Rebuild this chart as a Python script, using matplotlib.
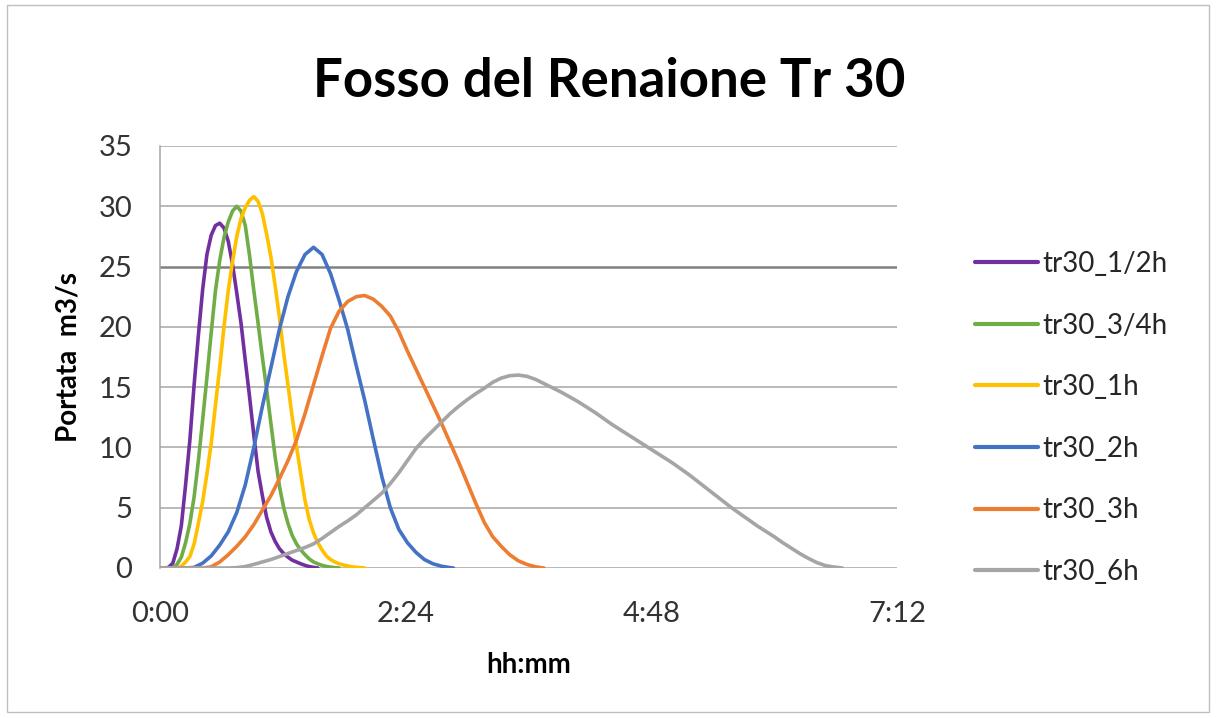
import matplotlib
matplotlib.use("Agg")
import matplotlib.pyplot as plt
from matplotlib.ticker import FuncFormatter
from matplotlib.patches import Rectangle

# ---- data (time in minutes, discharge in m3/s) ----
t_05 = [0, 2.5, 5, 7.5, 10, 12.5, 15, 17.5, 20, 22.5, 25, 27.5, 30, 32.5, 35, 37.5, 40, 42.5, 45, 47.5,
        50, 52.5, 55, 57.5, 60, 62.5, 65, 67.5, 70, 72.5, 75, 77.5, 80, 82.5, 85, 87.5, 90, 92.5]
q_05 = [0, 0, 0.05, 0.4, 1.6, 3.5, 6.9, 10.6, 15.2, 19.3, 23.1, 26, 27.6, 28.4, 28.6, 28.2, 27.1, 25.2, 22.8, 20.3,
        17.2, 14.2, 11, 8, 6, 4.2, 3, 2.2, 1.6, 1.2, 0.9, 0.65, 0.5, 0.35, 0.22, 0.12, 0.05, 0]

t_075 = [0, 2.5, 5, 7.5, 10, 12.5, 15, 17.5, 20, 22.5, 25, 27.5, 30, 32.5, 35, 37.5, 40, 42.5, 45, 47.5,
         50, 52.5, 55, 57.5, 60, 62.5, 65, 67.5, 70, 72.5, 75, 77.5, 80, 82.5, 85, 87.5, 90, 92.5, 95, 97.5,
         100, 102.5, 105]
q_075 = [0, 0, 0, 0, 0.3, 0.9, 2.1, 3.7, 5.9, 8.9, 12.3, 15.8, 19.5, 23, 25.5, 27.4, 28.7, 29.6, 30, 29.6,
         28.4, 25.9, 23, 20.3, 17.5, 14.8, 12, 9.2, 6.8, 5, 3.7, 2.7, 2, 1.5, 1.1, 0.75, 0.5, 0.35, 0.22, 0.13,
         0.07, 0.03, 0]

t_1 = [0, 2.5, 5, 7.5, 10, 12.5, 15, 17.5, 20, 22.5, 25, 27.5, 30, 32.5, 35, 37.5, 40, 42.5, 45, 47.5,
       50, 52.5, 55, 57.5, 60, 62.5, 65, 67.5, 70, 72.5, 75, 77.5, 80, 82.5, 85, 87.5, 90, 92.5, 95, 97.5,
       100, 102.5, 105, 107.5, 110, 112.5, 115, 117.5, 120]
q_1 = [0, 0, 0, 0, 0, 0.15, 0.5, 0.95, 2, 3.7, 5.5, 7.8, 10.3, 13.5, 16.6, 20, 23, 25.4, 27.5, 29,
       29.9, 30.5, 30.8, 30.4, 29.4, 27.7, 25.8, 23.4, 20.8, 17.8, 15.2, 12.5, 10.1, 7.8, 5.6, 4, 2.9, 2.1, 1.5, 1,
       0.7, 0.5, 0.35, 0.25, 0.17, 0.1, 0.06, 0.03, 0]

t_2 = [0, 5, 10, 15, 20, 25, 30, 35, 40, 45, 50, 55, 60, 65, 70, 75, 80, 85, 90, 95,
       100, 105, 110, 115, 120, 125, 130, 135, 140, 145, 150, 155, 160, 165, 170, 172]
q_2 = [0, 0, 0, 0, 0.05, 0.4, 1.0, 1.9, 3.0, 4.6, 6.9, 10.0, 13.4, 16.6, 19.8, 22.5, 24.6, 26.0, 26.6, 26.0,
       24.4, 22.2, 19.8, 16.8, 13.9, 10.7, 7.6, 5.0, 3.2, 2.1, 1.3, 0.7, 0.35, 0.15, 0.03, 0]

t_3 = [0, 5, 10, 15, 20, 25, 30, 35, 40, 45, 50, 55, 60, 65, 70, 75, 80, 85, 90, 95,
       100, 105, 110, 115, 120, 125, 130, 135, 140, 145, 150, 155, 160, 165, 170, 175, 180, 185, 190, 195,
       200, 205, 210, 215, 220, 225]
q_3 = [0, 0, 0, 0, 0, 0, 0.1, 0.5, 1.1, 1.8, 2.6, 3.6, 4.8, 6.0, 7.4, 8.9, 10.6, 12.8, 15.2, 17.6,
       19.9, 21.3, 22.1, 22.5, 22.6, 22.3, 21.7, 20.9, 19.6, 18.0, 16.5, 15.0, 13.5, 12.0, 10.4, 8.8, 7.1, 5.4, 3.8, 2.6,
       1.8, 1.1, 0.6, 0.3, 0.1, 0]

t_6 = [0, 40, 45, 50, 55, 60, 65, 70, 75, 80, 85, 90, 95, 100, 105, 110, 115, 120, 125, 130,
       135, 140, 145, 150, 155, 160, 165, 170, 175, 180, 185, 190, 195, 200, 205, 210, 215, 220, 225, 230,
       235, 240, 245, 250, 255, 260, 265, 270, 275, 280, 285, 290, 295, 300, 305, 310, 315, 320, 325, 330,
       335, 340, 345, 350, 355, 360, 365, 370, 375, 380, 385, 390, 395, 400]
q_6 = [0, 0, 0.03, 0.12, 0.3, 0.5, 0.7, 0.95, 1.2, 1.45, 1.7, 2.0, 2.45, 2.95, 3.45, 3.9, 4.4, 5.0, 5.6, 6.2,
       7.0, 7.9, 8.9, 9.9, 10.7, 11.4, 12.1, 12.8, 13.4, 13.95, 14.45, 14.9, 15.4, 15.75, 15.95, 16.0, 15.9, 15.65, 15.3, 14.95,
       14.6, 14.2, 13.8, 13.35, 12.9, 12.4, 11.9, 11.45, 11.0, 10.55, 10.1, 9.65, 9.2, 8.75, 8.25, 7.75, 7.2, 6.65, 6.1, 5.55,
       5.0, 4.5, 4.0, 3.5, 3.05, 2.6, 2.1, 1.65, 1.2, 0.8, 0.45, 0.2, 0.08, 0]

labels = ["tr30_1/2h", "tr30_3/4h", "tr30_1h", "tr30_2h", "tr30_3h", "tr30_6h"]
colors = ["#7030A0", "#70AD47", "#FFC000", "#4472C4", "#ED7D31", "#A5A5A5"]
series = [(t_05, q_05), (t_075, q_075), (t_1, q_1), (t_2, q_2), (t_3, q_3), (t_6, q_6)]

x_ticks = [0, 144, 288, 432]
y_ticks = [0, 5, 10, 15, 20, 25, 30, 35]
dark_grid = 25

plt.rcParams['font.family'] = ['Lato', 'DejaVu Sans']

fig = plt.figure(figsize=(12.16, 7.18), dpi=100)
fig.patches.append(Rectangle((0.006, 0.008), 0.988, 0.985, transform=fig.transFigure,
                             fill=False, edgecolor="#bfbfbf", linewidth=1.0))

ax = fig.add_axes([160/1216, 1-568/718, (897-160)/1216, (568-146)/718])

for (t, q), lab, c in zip(series, labels, colors):
    ax.plot(t, q, color=c, linewidth=2.6, label=lab, solid_capstyle='round', solid_joinstyle='round')

ax.set_xlim(0, 432)
ax.set_ylim(0, 35)
ax.set_xticks(x_ticks)
ax.xaxis.set_major_formatter(FuncFormatter(lambda v, p: f"{int(round(v))//60}:{int(round(v))%60:02d}"))
ax.set_yticks(y_ticks)
for yv in y_ticks:
    if yv == dark_grid:
        ax.axhline(yv, color="#808080", linewidth=1.8, zorder=0.5)
    else:
        ax.axhline(yv, color="#a6a6a6", linewidth=1.1, zorder=0.5)
for s in ['top', 'right', 'bottom']:
    ax.spines[s].set_visible(False)
ax.spines['left'].set_color("#a6a6a6")
ax.spines['left'].set_linewidth(1.1)
ax.tick_params(axis='both', length=0, labelsize=21, colors="#333333")
ax.tick_params(axis='y', pad=20)
ax.tick_params(axis='x', pad=24)

ax.set_xlabel("hh:mm", fontsize=20, fontweight='bold', va='baseline')
ax.xaxis.set_label_coords(0.5, (568-673)/422)
ax.set_ylabel("Portata  m3/s", fontsize=20, fontweight='bold', va='center')
ax.yaxis.set_label_coords((69-160)/737, 0.5)
fig.text(609/1216, 1-97/718, "Fosso del Renaione Tr 30", fontsize=38, fontweight='bold',
         ha='center', va='baseline')

leg = ax.legend(loc='center left', bbox_to_anchor=(975/1216, 1-418/718), bbox_transform=fig.transFigure,
                frameon=False, fontsize=20, handlelength=2.27, handletextpad=0.17,
                labelspacing=1.28, borderaxespad=0, borderpad=0)
for h in leg.get_lines():
    h.set_linewidth(3)
for txt in leg.get_texts():
    txt.set_color("#262626")

fig.savefig("out.png", dpi=100)
